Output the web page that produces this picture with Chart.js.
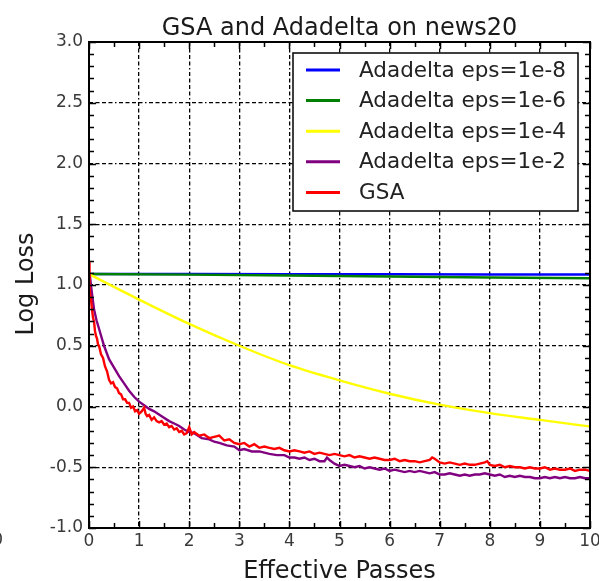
<!DOCTYPE html>
<html>
<head>
<meta charset="utf-8">
<title>GSA and Adadelta on news20</title>
<script src="https://cdn.jsdelivr.net/npm/chart.js@4.4.0/dist/chart.umd.min.js"></script>
<style>
    html, body { margin: 0; padding: 0; background: #fff; }
    canvas { display: block; }
</style>
</head>
<body>
<canvas id="lossChart" width="599" height="581"></canvas>
<script>
// Log loss per effective pass on news20

const seriesNames = ['Adadelta eps=1e-8', 'Adadelta eps=1e-6', 'Adadelta eps=1e-4', 'Adadelta eps=1e-2', 'GSA'];

const passesFlat = [0, 2, 4, 6, 8, 10];
const eps1e8 = [1.09, 1.09, 1.088, 1.088, 1.087, 1.086];
const eps1e6 = [1.09, 1.085, 1.078, 1.07, 1.062, 1.055];

const passesEps1e4 = [0, 1, 2, 3, 4, 5, 6, 7, 8, 9, 10];
const eps1e4 = [1.09, 0.88, 0.68, 0.5, 0.34, 0.215, 0.105, 0.015, -0.055, -0.11, -0.165];

const passesEps1e2 = [0, 0.02, 0.05, 0.1, 0.15, 0.2, 0.3, 0.4, 0.5, 0.6, 0.7, 0.8, 0.9, 1.0, 1.1, 1.2, 1.3, 1.45,
    1.6, 1.7, 1.8, 1.9, 2.0, 2.1, 2.25, 2.4, 2.5, 2.6, 2.75, 2.9, 3.0, 3.1, 3.25, 3.4, 3.5, 3.6, 3.75, 3.9,
    4.0, 4.1, 4.2, 4.3, 4.4, 4.5, 4.6, 4.7, 4.75, 4.8, 4.9, 5.0, 5.1, 5.2, 5.3, 5.4, 5.5, 5.6, 5.7, 5.8,
    5.9, 6.0, 6.1, 6.2, 6.3, 6.4, 6.5, 6.6, 6.7, 6.8, 6.9, 7.0, 7.1, 7.2, 7.3, 7.4, 7.5, 7.6, 7.7, 7.8,
    7.9, 8.0, 8.1, 8.2, 8.3, 8.4, 8.5, 8.6, 8.7, 8.8, 8.9, 9.0, 9.1, 9.2, 9.3, 9.4, 9.5, 9.6, 9.7, 9.8,
    9.9, 10.0];
const eps1e2 = [1.09, 1.07, 0.96, 0.8, 0.71, 0.64, 0.5, 0.39, 0.32, 0.25, 0.19, 0.13, 0.08, 0.04, 0.01, -0.02, -0.04, -0.08,
    -0.12, -0.14, -0.16, -0.19, -0.21, -0.22, -0.26, -0.27, -0.29, -0.3, -0.32, -0.33, -0.36, -0.35, -0.37, -0.37, -0.38, -0.39, -0.4, -0.4,
    -0.42, -0.42, -0.43, -0.42, -0.44, -0.43, -0.45, -0.45, -0.42, -0.44, -0.47, -0.49, -0.48, -0.49, -0.5, -0.49, -0.51, -0.5, -0.51, -0.52,
    -0.51, -0.53, -0.52, -0.53, -0.54, -0.53, -0.54, -0.53, -0.54, -0.55, -0.54, -0.56, -0.56, -0.55, -0.56, -0.57, -0.56, -0.57, -0.56, -0.56,
    -0.55, -0.56, -0.57, -0.56, -0.58, -0.57, -0.58, -0.57, -0.58, -0.58, -0.59, -0.59, -0.58, -0.59, -0.58, -0.59, -0.58, -0.59, -0.59, -0.58,
    -0.59, -0.59];

const passesGsa = [0, 0.01, 0.02, 0.04, 0.06, 0.08, 0.1, 0.12, 0.14, 0.16, 0.18, 0.2, 0.24, 0.28, 0.32, 0.36, 0.4, 0.44,
    0.48, 0.52, 0.56, 0.6, 0.64, 0.68, 0.72, 0.76, 0.8, 0.84, 0.88, 0.92, 0.96, 1.0, 1.05, 1.1, 1.13, 1.16, 1.2, 1.25,
    1.3, 1.35, 1.4, 1.45, 1.5, 1.55, 1.6, 1.65, 1.7, 1.75, 1.8, 1.85, 1.9, 1.95, 2.0, 2.05, 2.1, 2.2, 2.3, 2.4,
    2.5, 2.6, 2.7, 2.8, 2.9, 3.0, 3.1, 3.2, 3.3, 3.4, 3.5, 3.6, 3.7, 3.8, 3.9, 4.0, 4.1, 4.2, 4.3, 4.4,
    4.5, 4.6, 4.7, 4.8, 4.9, 5.0, 5.1, 5.2, 5.3, 5.4, 5.5, 5.6, 5.7, 5.8, 5.9, 6.0, 6.1, 6.2, 6.3, 6.4,
    6.5, 6.6, 6.7, 6.8, 6.85, 6.9, 7.0, 7.1, 7.2, 7.3, 7.4, 7.5, 7.6, 7.7, 7.8, 7.9, 7.95, 8.0, 8.1, 8.2,
    8.3, 8.4, 8.5, 8.6, 8.7, 8.8, 8.9, 9.0, 9.1, 9.2, 9.3, 9.4, 9.5, 9.6, 9.7, 9.8, 9.9, 10.0];
const gsa = [1.2, 1.0, 0.93, 0.88, 0.8, 0.73, 0.7, 0.62, 0.58, 0.56, 0.51, 0.5, 0.43, 0.4, 0.33, 0.29, 0.22, 0.19,
    0.2, 0.16, 0.15, 0.11, 0.1, 0.06, 0.06, 0.03, 0.03, -0.01, 0.0, -0.04, -0.03, -0.06, -0.04, -0.01, -0.06, -0.08, -0.07, -0.11,
    -0.09, -0.12, -0.13, -0.12, -0.15, -0.14, -0.17, -0.16, -0.19, -0.18, -0.21, -0.2, -0.23, -0.22, -0.17, -0.23, -0.21, -0.24, -0.23, -0.26,
    -0.25, -0.24, -0.28, -0.27, -0.3, -0.31, -0.3, -0.33, -0.31, -0.34, -0.33, -0.34, -0.35, -0.34, -0.36, -0.37, -0.36, -0.37, -0.38, -0.37,
    -0.39, -0.38, -0.39, -0.4, -0.39, -0.4, -0.41, -0.4, -0.42, -0.41, -0.42, -0.43, -0.42, -0.43, -0.44, -0.44, -0.43, -0.45, -0.44, -0.45,
    -0.45, -0.46, -0.45, -0.44, -0.42, -0.43, -0.46, -0.47, -0.46, -0.47, -0.48, -0.47, -0.48, -0.48, -0.47, -0.46, -0.45, -0.48, -0.49, -0.48,
    -0.5, -0.49, -0.5, -0.5, -0.51, -0.5, -0.51, -0.51, -0.5, -0.52, -0.51, -0.52, -0.52, -0.51, -0.53, -0.52, -0.52, -0.53];

const xTickValues = [0, 1, 2, 3, 4, 5, 6, 7, 8, 9, 10];
const yTickValues = [-1.0, -0.5, 0.0, 0.5, 1.0, 1.5, 2.0, 2.5, 3.0];
const yTickLabels = ['-1.0', '-0.5', '0.0', '0.5', '1.0', '1.5', '2.0', '2.5', '3.0'];

const font = '"DejaVu Sans", Verdana, sans-serif';

function points(xs, ys) {
    return xs.map((x, i) => ({ x: x, y: ys[i] }));
}

function line(label, xs, ys, color, order, extra) {
    return Object.assign({
        label: label,
        data: points(xs, ys),
        borderColor: color,
        backgroundColor: color,
        borderWidth: 2.4,
        pointRadius: 0,
        tension: 0,
        order: order
    }, extra || {});
}

const lossData = {
    datasets: [
        line(seriesNames[0], passesFlat, eps1e8, '#0000ff', 5),
        line(seriesNames[1], passesFlat, eps1e6, '#008000', 4),
        line(seriesNames[2], passesEps1e4, eps1e4, '#ffff00', 3, { cubicInterpolationMode: 'monotone' }),
        line(seriesNames[3], passesEps1e2, eps1e2, '#800080', 2),
        line(seriesNames[4], passesGsa, gsa, '#ff0000', 1)
    ]
};

// frame, inward ticks, labels and legend
const decorations = {
    id: 'decorations',
    afterDatasetsDraw(chart) {
        const { ctx, chartArea: a, scales } = chart;
        const xs = scales.x, ys = scales.y;
        ctx.save();
        ctx.setLineDash([]);

        // legend box
        const lw = 285, lh = 158;
        const lx = a.right - 12 - lw, ly = a.top + 11;
        ctx.fillStyle = '#fff';
        ctx.fillRect(lx, ly, lw, lh);
        ctx.strokeStyle = '#000';
        ctx.lineWidth = 1.5;
        ctx.strokeRect(lx, ly, lw, lh);
        ctx.font = '21.5px ' + font;
        ctx.textBaseline = 'middle';
        ctx.textAlign = 'left';
        chart.data.datasets.forEach((ds, i) => {
            const ry = ly + 17 + i * 30.6;
            ctx.strokeStyle = ds.borderColor;
            ctx.lineWidth = 3;
            ctx.beginPath();
            ctx.moveTo(lx + 13, ry);
            ctx.lineTo(lx + 47, ry);
            ctx.stroke();
            ctx.fillStyle = '#222';
            ctx.fillText(ds.label, lx + 66, ry + 1);
        });

        // frame
        ctx.strokeStyle = '#000';
        ctx.lineWidth = 2;
        ctx.strokeRect(a.left, a.top, a.right - a.left, a.bottom - a.top);

        // ticks on all four sides, pointing in
        ctx.lineWidth = 1.5;
        ctx.beginPath();
        for (let v = 0; v <= 10.001; v += 0.5) {
            const px = Math.round(xs.getPixelForValue(v)) + 0.5;
            const len = Math.abs(v - Math.round(v)) < 0.01 ? 7 : 5;
            ctx.moveTo(px, a.bottom); ctx.lineTo(px, a.bottom - len);
            ctx.moveTo(px, a.top); ctx.lineTo(px, a.top + len);
        }
        for (let k = -10; k <= 30; k++) {
            const py = Math.round(ys.getPixelForValue(k / 10)) + 0.5;
            const len = k % 5 === 0 ? 7 : 5;
            ctx.moveTo(a.left, py); ctx.lineTo(a.left + len, py);
            ctx.moveTo(a.right, py); ctx.lineTo(a.right - len, py);
        }
        ctx.stroke();

        // tick labels
        ctx.fillStyle = '#3a3a3a';
        ctx.font = '17px ' + font;
        ctx.textBaseline = 'middle';
        ctx.textAlign = 'right';
        yTickValues.forEach((v, i) => {
            ctx.fillText(yTickLabels[i], a.left - 6, ys.getPixelForValue(v));
        });
        ctx.textAlign = 'center';
        xTickValues.forEach((v) => {
            ctx.fillText(String(v), xs.getPixelForValue(v), a.bottom + 14);
        });
        // edge of the neighbouring panel's tick label
        ctx.textAlign = 'right';
        ctx.fillText('0', 3, a.bottom + 13);

        // title and axis titles
        ctx.fillStyle = '#1a1a1a';
        ctx.textAlign = 'center';
        ctx.textBaseline = 'alphabetic';
        ctx.font = '24px ' + font;
        ctx.fillText('GSA and Adadelta on news20', (a.left + a.right) / 2, a.top - 7);
        ctx.fillText('Effective Passes', (a.left + a.right) / 2, a.bottom + 50);
        ctx.save();
        ctx.translate(33, 284);
        ctx.rotate(-Math.PI / 2);
        ctx.fillText('Log Loss', 0, 0);
        ctx.restore();

        ctx.restore();
    }
};

const gridDash = [4, 2.5, 4, 2.5, 4, 2.5, 4, 2.5, 1.5, 2.5];

const options = {
    responsive: false,
    animation: false,
    layout: {
        padding: { left: 89, top: 42, right: 9, bottom: 53 }
    },
    plugins: {
        legend: { display: false },
        tooltip: { enabled: false }
    },
    scales: {
        x: {
            type: 'linear',
            min: 0,
            max: 10,
            ticks: { display: false, stepSize: 1 },
            grid: { color: '#000', lineWidth: 1.3, drawTicks: false },
            border: { display: false, dash: gridDash }
        },
        y: {
            type: 'linear',
            min: -1,
            max: 3,
            ticks: { display: false, stepSize: 0.5 },
            grid: { color: '#000', lineWidth: 1.3, drawTicks: false },
            border: { display: false, dash: gridDash }
        }
    }
};

const lossElement = document.getElementById('lossChart');

if (lossElement) {
    const lossChart = new Chart(lossElement, {
        type: 'line',
        data: lossData,
        options: options,
        plugins: [decorations]
    });
}
</script>
</body>
</html>
